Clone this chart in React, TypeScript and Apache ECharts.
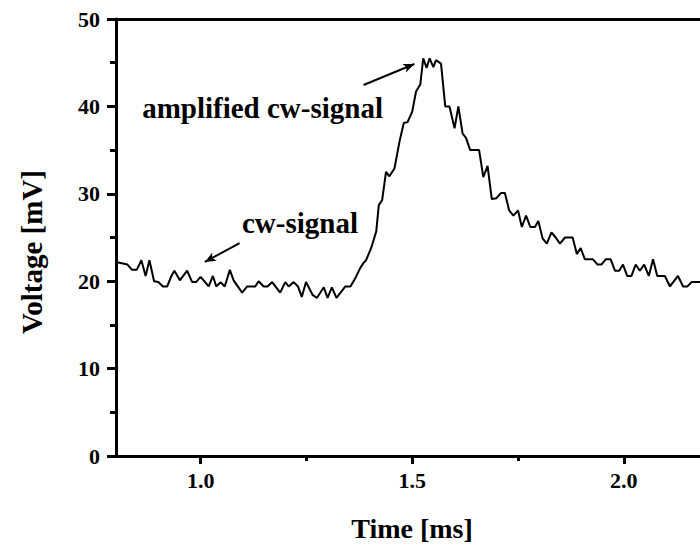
import React, { useEffect, useRef } from "react";
import * as echarts from "echarts";

const timeMs: number[] = [
  0.800, 0.827, 0.838, 0.849, 0.860, 0.870, 0.879, 0.890, 0.900, 0.911,
  0.921, 0.930, 0.938, 0.951, 0.968, 0.980, 0.989, 1.000, 1.019, 1.029,
  1.037, 1.047, 1.057, 1.069, 1.078, 1.098, 1.110, 1.129, 1.137, 1.149,
  1.158, 1.169, 1.188, 1.200, 1.208, 1.220, 1.230, 1.239, 1.249, 1.265,
  1.275, 1.291, 1.300, 1.310, 1.321, 1.342, 1.354, 1.365, 1.377, 1.385,
  1.391, 1.403, 1.415, 1.421, 1.429, 1.438, 1.446, 1.458, 1.470, 1.480,
  1.489, 1.500, 1.509, 1.519, 1.526, 1.534, 1.541, 1.550, 1.556, 1.568,
  1.578, 1.588, 1.600, 1.609, 1.619, 1.627, 1.637, 1.658, 1.668, 1.678,
  1.688, 1.699, 1.710, 1.719, 1.729, 1.739, 1.750, 1.759, 1.769, 1.779,
  1.790, 1.798, 1.808, 1.818, 1.829, 1.839, 1.849, 1.861, 1.879, 1.889,
  1.898, 1.908, 1.927, 1.938, 1.947, 1.957, 1.969, 1.979, 1.989, 1.998,
  2.008, 2.018, 2.028, 2.038, 2.048, 2.059, 2.069, 2.079, 2.097, 2.109,
  2.128, 2.140, 2.150, 2.160, 2.180,
];

const voltageMv: number[] = [
  22.2, 21.9, 21.3, 21.3, 22.4, 20.6, 22.4, 20.0, 19.9, 19.4,
  19.4, 20.5, 21.2, 20.1, 21.2, 19.9, 19.9, 20.5, 19.4, 20.6,
  19.4, 19.9, 19.4, 21.3, 20.1, 18.7, 19.4, 19.4, 20.0, 19.4,
  19.4, 19.9, 18.7, 19.9, 19.4, 19.9, 19.4, 18.2, 19.9, 18.4,
  18.1, 19.3, 18.1, 19.3, 18.1, 19.4, 19.4, 20.3, 21.5, 22.1,
  22.4, 23.8, 25.7, 28.7, 29.3, 32.5, 32.0, 32.9, 36.0, 38.1,
  38.2, 39.4, 41.7, 42.5, 45.5, 44.4, 45.5, 44.5, 45.3, 44.9,
  40.0, 40.0, 37.5, 40.0, 36.9, 36.4, 35.0, 35.0, 31.9, 33.2,
  29.4, 29.5, 30.1, 30.1, 28.1, 27.5, 28.1, 26.2, 27.5, 26.2,
  26.2, 26.9, 24.9, 24.3, 25.6, 25.0, 24.3, 25.0, 25.0, 23.1,
  23.8, 22.5, 22.5, 21.9, 21.9, 22.5, 22.5, 21.2, 21.2, 21.9,
  20.6, 20.6, 21.9, 21.2, 21.9, 20.6, 22.5, 20.6, 20.6, 19.4,
  20.6, 19.4, 19.4, 19.9, 19.9,
];

const xMajorTicks: number[] = [1.0, 1.5, 2.0];
const xMinorTicks: number[] = [1.25, 1.75];

// annotation arrows in data units: [fromTime, fromVoltage, toTime, toVoltage]
const arrowAmplified: number[] = [1.385, 42.45, 1.505, 44.85];
const arrowCw: number[] = [1.092, 24.37, 1.010, 22.2];

const FONT = "'Liberation Serif', 'Times New Roman', serif";

export default function App() {
  const ref = useRef<HTMLDivElement>(null);

  useEffect(() => {
    if (!ref.current) return;
    const chart = echarts.init(ref.current, null, { renderer: "svg" });
    const data = timeMs.map((t, i) => [t, voltageMv[i]]);
    const arrowLine = (a: number[]) => [
      { coord: [a[0], a[1]] },
      { coord: [a[2], a[3]] },
    ];
    chart.setOption({
      animation: false,
      backgroundColor: "#ffffff",
      grid: { left: 116, right: 0, top: 19, bottom: 90, containLabel: false },
      xAxis: [
        {
          type: "value",
          min: 0.8,
          max: 2.18,
          position: "bottom",
          axisLine: { show: true, onZero: false, lineStyle: { color: "#000", width: 3 } },
          axisTick: {
            show: true,
            customValues: xMajorTicks,
            length: 8,
            lineStyle: { color: "#000", width: 3 },
          },
          axisLabel: {
            show: true,
            customValues: xMajorTicks,
            formatter: (v: number) => v.toFixed(1),
            margin: 13,
            fontFamily: FONT,
            fontWeight: "bold",
            fontSize: 22,
            color: "#000",
          },
          splitLine: { show: false },
        },
        {
          type: "value",
          min: 0.8,
          max: 2.18,
          position: "bottom",
          axisLine: { show: false },
          axisTick: {
            show: true,
            customValues: xMinorTicks,
            length: 5,
            lineStyle: { color: "#000", width: 3 },
          },
          axisLabel: { show: false },
          splitLine: { show: false },
        },
        {
          type: "value",
          min: 0.8,
          max: 2.18,
          position: "top",
          axisLine: { show: true, onZero: false, lineStyle: { color: "#000", width: 3 } },
          axisTick: { show: false },
          axisLabel: { show: false },
          splitLine: { show: false },
        },
      ],
      yAxis: {
        type: "value",
        min: 0,
        max: 50,
        interval: 10,
        axisLine: { show: true, onZero: false, lineStyle: { color: "#000", width: 3 } },
        axisTick: { show: true, length: 9, lineStyle: { color: "#000", width: 3 } },
        minorTick: { show: true, splitNumber: 2, length: 6, lineStyle: { color: "#000", width: 3 } },
        axisLabel: {
          margin: 16,
          fontFamily: FONT,
          fontWeight: "bold",
          fontSize: 22,
          color: "#000",
        },
        splitLine: { show: false },
        minorSplitLine: { show: false },
      },
      series: [
        {
          type: "line",
          xAxisIndex: 0,
          data,
          showSymbol: false,
          symbol: "none",
          lineStyle: { color: "#000", width: 2 },
          markLine: {
            silent: true,
            symbol: ["none", "arrow"],
            symbolSize: [7, 11],
            label: { show: false },
            lineStyle: { color: "#000", width: 2, type: "solid" },
            data: [arrowLine(arrowAmplified), arrowLine(arrowCw)],
          },
        },
      ],
      graphic: [
        {
          type: "text",
          x: 32,
          y: 252,
          rotation: Math.PI / 2,
          style: {
            text: "Voltage [mV]",
            font: `bold 29px ${FONT}`,
            fill: "#000",
            align: "center",
            verticalAlign: "middle",
          },
        },
        {
          type: "text",
          x: 412,
          y: 528,
          style: {
            text: "Time [ms]",
            font: `bold 28px ${FONT}`,
            fill: "#000",
            align: "center",
            verticalAlign: "middle",
          },
        },
        {
          type: "text",
          x: 383,
          y: 108,
          style: {
            text: "amplified cw-signal",
            font: `bold 29px ${FONT}`,
            fill: "#000",
            align: "right",
            verticalAlign: "middle",
          },
        },
        {
          type: "text",
          x: 358,
          y: 223,
          style: {
            text: "cw-signal",
            font: `bold 29px ${FONT}`,
            fill: "#000",
            align: "right",
            verticalAlign: "middle",
          },
        },
      ],
    });
    return () => chart.dispose();
  }, []);

  return (
    <div
      ref={ref}
      style={{ position: "absolute", left: 0, top: 0, width: 700, height: 546, background: "#fff" }}
    />
  );
}
